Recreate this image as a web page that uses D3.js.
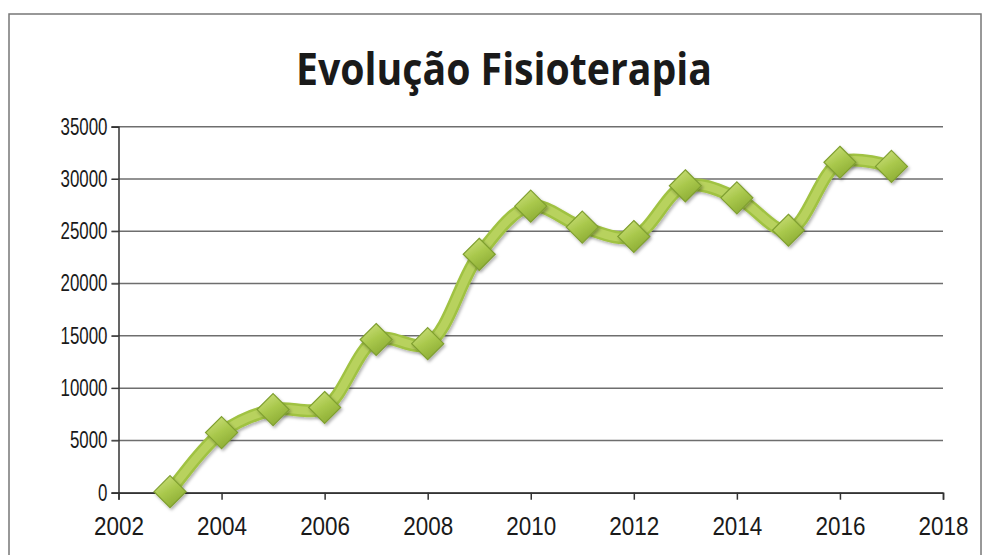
<!DOCTYPE html>
<html>
<head>
<meta charset="utf-8">
<script src="https://cdn.jsdelivr.net/npm/d3@7"></script>
<style>
  html, body { margin: 0; padding: 0; background: #fff; }
</style>
</head>
<body>
<script>
const overallWidth = 984
const overallHeight = 555
const margin = { left: 118.5, top: 126.7, right: 41, bottom: 62.3 }
const width = overallWidth - margin.left - margin.right
const height = overallHeight - margin.top - margin.bottom

const title = 'Evolução Fisioterapia'
const years = [2003, 2004, 2005, 2006, 2007, 2008, 2009, 2010, 2011, 2012, 2013, 2014, 2015, 2016, 2017]
const values = [100, 5750, 7950, 8150, 14650, 14250, 22800, 27400, 25400, 24500, 29350, 28200, 25100, 31600, 31200]
const xTicks = [2002, 2004, 2006, 2008, 2010, 2012, 2014, 2016, 2018]
const yTicks = [0, 5000, 10000, 15000, 20000, 25000, 30000, 35000]

const data = years.map((y, i) => ({ year: y, value: values[i] }))

const svg = d3.select('body').append('svg')
  .attr('width', overallWidth)
  .attr('height', overallHeight)
  .style('font-family', '"Open Sans", sans-serif')

const defs = svg.append('defs')
const mg = defs.append('linearGradient').attr('id', 'mk')
  .attr('x1', 0).attr('y1', 0).attr('x2', 0.6).attr('y2', 1)
mg.append('stop').attr('offset', '0%').attr('stop-color', '#d3e486')
mg.append('stop').attr('offset', '55%').attr('stop-color', '#a9c84c')
mg.append('stop').attr('offset', '100%').attr('stop-color', '#8dad35')
const sh = defs.append('filter').attr('id', 'sh')
  .attr('x', '-30%').attr('y', '-30%').attr('width', '160%').attr('height', '160%')
sh.append('feDropShadow').attr('dx', 1.5).attr('dy', 2).attr('stdDeviation', 1.5)
  .attr('flood-color', '#000').attr('flood-opacity', 0.3)

// chart border
svg.append('rect')
  .attr('x', 9).attr('y', 14)
  .attr('width', 972).attr('height', 560)
  .attr('fill', 'none')
  .attr('stroke', '#777')
  .attr('stroke-width', 1.5)

svg.append('text')
  .text(title)
  .attr('x', 504)
  .attr('y', 85)
  .attr('text-anchor', 'middle')
  .attr('textLength', 416)
  .attr('lengthAdjust', 'spacingAndGlyphs')
  .style('font-size', '44px')
  .style('font-weight', 'bold')
  .style('fill', '#1a1a1a')

const g = svg.append('g').attr('transform', `translate(${margin.left},${margin.top})`)

const x = d3.scaleLinear().domain([2002, 2018]).range([0, width])
const y = d3.scaleLinear().domain([0, 35000]).range([height, 0])

// gridlines
g.append('g').attr('class', 'grid')
  .selectAll('line')
  .data(yTicks)
  .join('line')
  .attr('x1', -7).attr('x2', width)
  .attr('y1', d => y(d)).attr('y2', d => y(d))
  .attr('stroke', '#6e6e6e')
  .attr('stroke-width', 1.5)

g.append('g').attr('class', 'y axis')
  .call(d3.axisLeft(y).tickValues(yTicks).tickSize(7).tickPadding(4).tickFormat(d3.format('d')))
  .call(g => g.select('.domain').attr('stroke', '#333').attr('stroke-width', 1.5))
  .call(g => g.selectAll('.tick line').attr('stroke', '#333'))
  .selectAll('text')
  .attr('textLength', d => String(d).length * 9.4)
  .attr('lengthAdjust', 'spacingAndGlyphs')
  .style('font-size', '23px')
  .style('fill', '#1a1a1a')

g.append('g').attr('class', 'x axis')
  .attr('transform', `translate(0,${height})`)
  .call(d3.axisBottom(x).tickValues(xTicks).tickSize(7).tickPadding(17).tickFormat(d3.format('d')))
  .call(g => g.select('.domain').attr('stroke', '#333').attr('stroke-width', 1.5))
  .call(g => g.selectAll('.tick line').attr('stroke', '#333').attr('stroke-width', 1.5))
  .selectAll('text')
  .attr('textLength', 50)
  .attr('lengthAdjust', 'spacingAndGlyphs')
  .style('font-size', '26px')
  .style('fill', '#1a1a1a')

const line = d3.line()
  .x(d => x(d.year))
  .y(d => y(d.value))
  .curve(d3.curveCatmullRom.alpha(0.5))

g.append('path')
  .datum(data)
  .attr('d', line)
  .attr('fill', 'none')
  .attr('stroke', '#a0c243')
  .attr('stroke-width', 13)
  .attr('stroke-linejoin', 'round')
  .attr('filter', 'url(#sh)')
g.append('path')
  .datum(data)
  .attr('d', line)
  .attr('fill', 'none')
  .attr('stroke', '#b8d25e')
  .attr('stroke-width', 8)
  .attr('stroke-linejoin', 'round')

const r = 16
g.append('g').attr('class', 'markers')
  .selectAll('path')
  .data(data)
  .join('path')
  .attr('transform', d => `translate(${x(d.year)},${y(d.value)})`)
  .attr('d', `M0,${-r}L${r},0L0,${r}L${-r},0Z`)
  .attr('fill', 'url(#mk)')
  .attr('stroke', '#7f9f30')
  .attr('stroke-width', 1.2)
  .attr('filter', 'url(#sh)')
</script>
</body>
</html>
